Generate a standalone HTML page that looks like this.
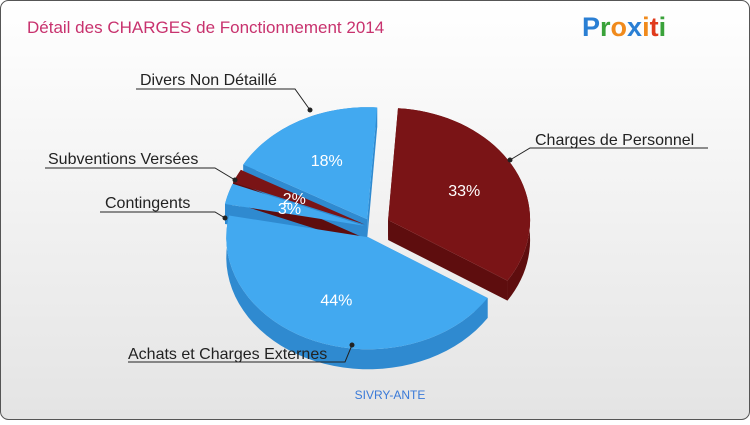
<!DOCTYPE html>
<html><head><meta charset="utf-8"><style>
body{margin:0;width:750px;height:420px;overflow:hidden;font-family:"Liberation Sans",sans-serif}
</style></head><body>
<svg width="750" height="420" xmlns="http://www.w3.org/2000/svg">
<defs><linearGradient id="bg" x1="0" y1="0" x2="0" y2="1"><stop offset="0" stop-color="#ffffff"/><stop offset="1" stop-color="#e4e4e4"/></linearGradient></defs>
<rect x="0.5" y="0.5" width="749" height="419" rx="8" fill="url(#bg)" stroke="#555"/>
<text x="27" y="33" font-size="17" fill="#c8326e">Détail des CHARGES de Fonctionnement 2014</text>
<g font-size="27" font-weight="bold">
<text x="582" y="36"><tspan fill="#2a7fd4">P</tspan><tspan fill="#3aa23a">r</tspan><tspan fill="#f08a1c">o</tspan><tspan fill="#2a7fd4">x</tspan><tspan fill="#f08a1c">i</tspan><tspan fill="#e03a1c">t</tspan><tspan fill="#3aa23a">i</tspan></text></g>
<g id="pie"></g>
<g id="labels" font-size="16" fill="#222"></g>
<text x="390" y="399" font-size="12" fill="#3a7ad8" text-anchor="middle">SIVRY-ANTE</text>
</svg>
<script>
const categories=["Charges de Personnel","Achats et Charges Externes","Contingents","Subventions Versées","Divers Non Détaillé"];
const values=[33,44,3,2,18];
const explode=[18,10,8,8,10];
const colors=["#7a1416","#42a9f0","#42a9f0","#7a1416","#42a9f0"];
const sides=["#5e0d0e","#2f8ad0","#2f8ad0","#5e0d0e","#2f8ad0"];
const cx=372,cy=228,rx=142,ry=112,depth=20,start=-86;
const NS="http://www.w3.org/2000/svg";
const pie=document.getElementById('pie');
const total=values.reduce((a,b)=>a+b,0);
function pt(ox,oy,a,dy){const r=a*Math.PI/180;return [ox+rx*Math.cos(r),oy+ry*Math.sin(r)+(dy||0)];}
let a=start;const sl=[];
values.forEach((v,i)=>{const a1=a,a2=a+v/total*360;a=a2;const m=(a1+a2)/2*Math.PI/180;
sl.push({a1,a2,ox:cx+explode[i]*Math.cos(m),oy:cy+explode[i]*Math.sin(m),i,mid:(a1+a2)/2});});
function mk(d,fill,name){const p=document.createElementNS(NS,'path');p.setAttribute('d',d);p.setAttribute('fill',fill);


pie.appendChild(p);}
sl.forEach(s=>{const steps=40;let top=[],bot=[];
for(let k=0;k<=steps;k++){const t=s.a1+(s.a2-s.a1)*k/steps;top.push(pt(s.ox,s.oy,t));bot.push(pt(s.ox,s.oy,t,depth));}
let d='M'+top.map(p=>p.join(',')).join('L')+'L'+bot.reverse().map(p=>p.join(',')).join('L')+'Z';
mk(d,sides[s.i],'slice-side-'+s.i);
[s.a1,s.a2].forEach(t=>{const p=pt(s.ox,s.oy,t);mk(`M${s.ox},${s.oy}L${p}L${p[0]},${p[1]+depth}L${s.ox},${s.oy+depth}Z`,sides[s.i],'slice-wall-'+s.i);});});
sl.forEach(s=>{const steps=40;let d=`M${s.ox},${s.oy}`;
for(let k=0;k<=steps;k++){const t=s.a1+(s.a2-s.a1)*k/steps;d+='L'+pt(s.ox,s.oy,t).join(',');}
mk(d+'Z',colors[s.i],'slice-'+categories[s.i].toLowerCase().replace(/[^a-z]+/g,'-'));
const r=s.mid*Math.PI/180,f=s.i==2||s.i==3?0.55:0.6;
const t=document.createElementNS(NS,'text');t.setAttribute('x',s.ox+rx*f*Math.cos(r));t.setAttribute('y',s.oy+ry*f*Math.sin(r)+6);
t.setAttribute('text-anchor','middle');t.setAttribute('font-size','16');t.setAttribute('fill','#fff');


t.textContent=values[s.i]+'%';document.getElementById('labels').appendChild(t);});
const lab=[[535,145,"start",[[530,148],[708,148]],[510,160]],[128,359,"start",[[128,362],[345,362]],[352,345]],[105,208,"start",[[100,212],[215,212]],[225,218]],[48,164,"start",[[45,168],[215,168]],[235,180]],[140,85,"start",[[136,89],[295,89]],[310,110]]];
lab.forEach((l,i)=>{const g=document.getElementById('labels');
const pl=document.createElementNS(NS,'polyline');pl.setAttribute('points',l[3][1].join(',')+' '+l[3][0].join(',')+' '+l[4].join(','));
if(i!=0)pl.setAttribute('points',l[3][0].join(',')+' '+l[3][1].join(',')+' '+l[4].join(','));
pl.setAttribute('fill','none');pl.setAttribute('stroke','#222');


g.appendChild(pl);
const c=document.createElementNS(NS,'circle');c.setAttribute('cx',l[4][0]);c.setAttribute('cy',l[4][1]);c.setAttribute('r',2.5);c.setAttribute('fill','#222');


g.appendChild(c);
const t=document.createElementNS(NS,'text');t.setAttribute('x',l[0]);t.setAttribute('y',l[1]);t.setAttribute('fill','#222');


t.textContent=categories[i];g.appendChild(t);});
</script>
</body></html>
